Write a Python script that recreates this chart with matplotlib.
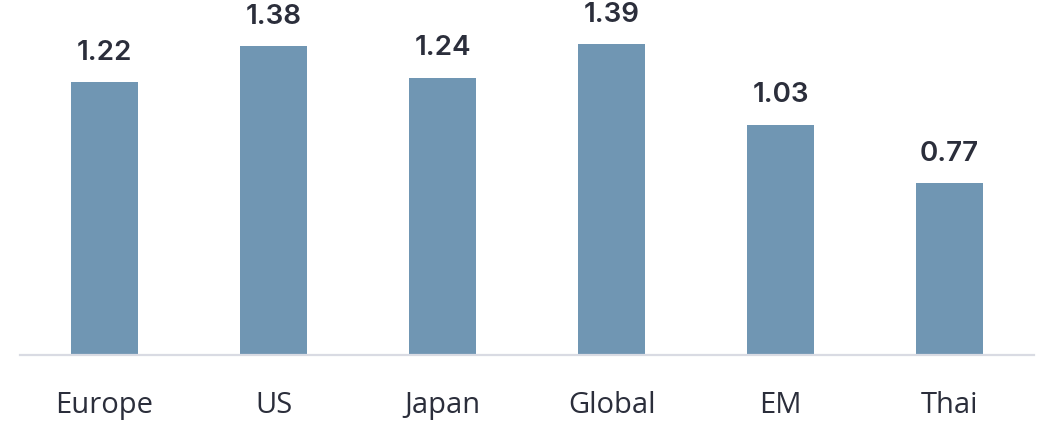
import matplotlib.pyplot as plt

regions = ["Europe", "US", "Japan", "Global", "EM", "Thai"]
ratios = [1.22, 1.38, 1.24, 1.39, 1.03, 0.77]

bar_color = "#7096b3"
text_color = "#2b2e3b"

fig = plt.figure(figsize=(10.38, 4.24), dpi=100)
ax = fig.add_axes([20 / 1038, 1 - 355 / 424, 1014 / 1038, 355 / 424])

x = range(len(regions))
bars = ax.bar(x, ratios, width=0.40, color=bar_color, zorder=2)

for rect, val in zip(bars, ratios):
    ax.annotate(f"{val:.2f}",
                xy=(rect.get_x() + rect.get_width() / 2, rect.get_height()),
                xytext=(0, 16), textcoords="offset points",
                ha="center", va="baseline", fontsize=20, fontfamily="Inter",
                fontweight="semibold", color=text_color)

ax.set_xlim(-0.5, len(regions) - 0.5)
ax.set_ylim(0, 355 / 223.7)
ax.set_xticks(list(x))
ax.set_xticklabels(regions, fontsize=21, fontfamily="Open Sans", color=text_color)
ax.tick_params(axis="x", length=0, pad=26)
ax.set_yticks([])

for side in ["top", "right", "left"]:
    ax.spines[side].set_visible(False)
ax.spines["bottom"].set_color("#d9dbe3")
ax.spines["bottom"].set_linewidth(1.6)

plt.savefig("out.png", dpi=100)
